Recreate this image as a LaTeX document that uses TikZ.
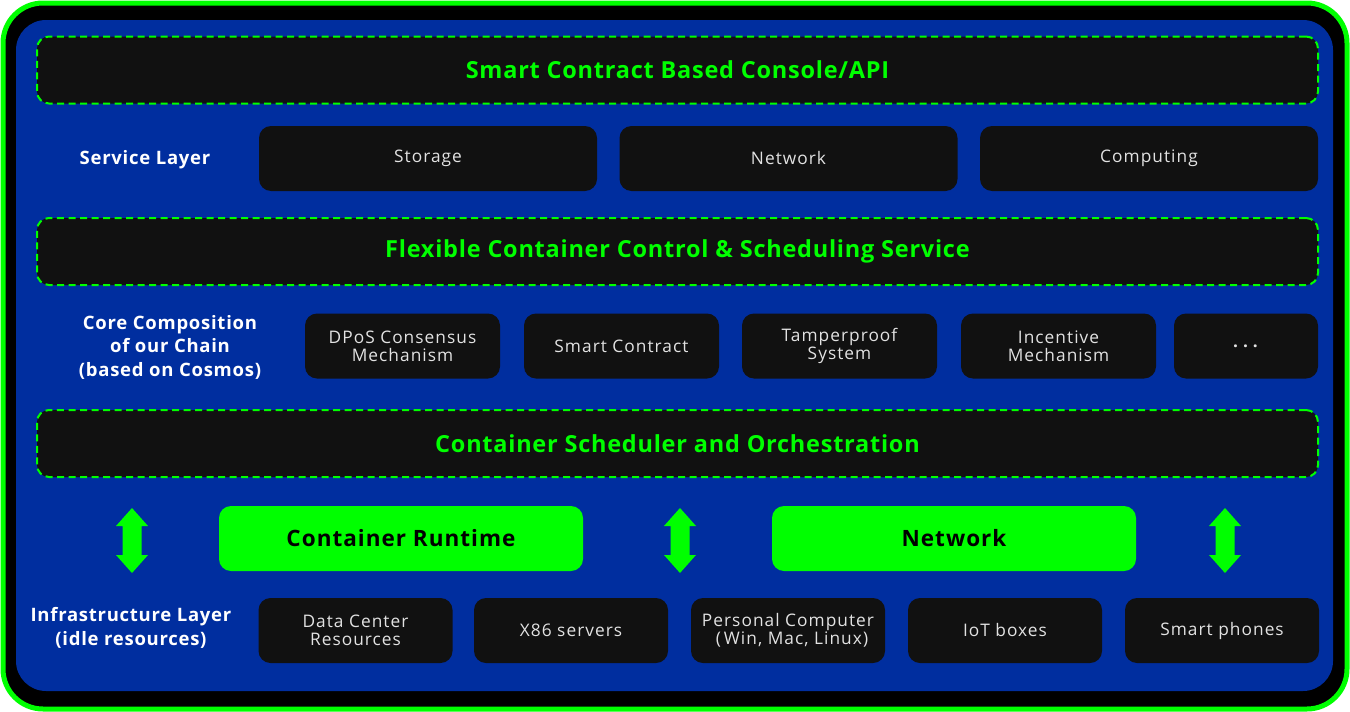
\documentclass[tikz,border=0pt]{standalone}
\usepackage{fontspec}
\setmainfont{Open Sans}
\newfontfamily\titlefont[LetterSpace=3.2]{Open Sans}
\newfontfamily\greenfont[LetterSpace=4.5]{Open Sans}
\newfontfamily\boxfont[LetterSpace=6]{Open Sans}
\newfontfamily\labfont[LetterSpace=4]{Open Sans}
\definecolor{bgblue}{HTML}{002E9F}
\definecolor{lime}{HTML}{00FF00}
\definecolor{dark}{HTML}{111111}
\definecolor{light}{HTML}{E2E2E2}
\tikzset{
  dbox/.style={draw=lime, line width=2pt, dash pattern=on 7pt off 4.5pt, fill=dark, rounded corners=12pt, minimum width=1281pt, minimum height=67pt, inner sep=0pt, text=lime, font=\titlefont\fontsize{23.5}{26}\selectfont\bfseries},
  ibox/.style={fill=dark, rounded corners=12pt, minimum height=65pt, inner sep=0pt, text=light, align=center, font=\boxfont\fontsize{17.3}{18}\selectfont},
  gbox/.style={fill=lime, rounded corners=12pt, minimum width=364pt, minimum height=65pt, inner sep=0pt, text=black, font=\greenfont\fontsize{22.5}{26}\selectfont\bfseries},
  lab/.style={text=white, align=center, font=\labfont\fontsize{18.5}{23.5}\selectfont\bfseries},
  dblarrow/.style={fill=lime, draw=none}
}
\newcommand{\dblarr}[3]{%
  \coordinate (#1) at (#2,#3);
  \fill[dblarrow] ([shift={(0,-32.5)}]#1) -- ++(16,18) -- ++(-6.5,0) -- ++(0,29) -- ++(6.5,0) -- ++(-16,18) -- ++(-16,-18) -- ++(6.5,0) -- ++(0,-29) -- ++(-6.5,0) -- cycle;}
\begin{document}
\begin{tikzpicture}[x=1pt,y=-1pt]
\useasboundingbox (0,0) rectangle (1350,712);
\draw[draw=lime, fill=black, line width=5pt, rounded corners=40pt] (3,3) rectangle (1347,709);
\fill[bgblue, rounded corners=30pt] (16,20) rectangle (1333,691);

\node[dbox] (console) at (677.5,70) {Smart Contract Based Console/API};
\node[lab] (svc) at (145,160) {Service Layer};
\node[ibox, minimum width=338pt] (storage) at (428,158.5) {\raisebox{-1pt}{Storage}};
\node[ibox, minimum width=338pt] (net1) at (788.5,158.5) {\raisebox{-1pt}{Network}};
\node[ibox, minimum width=338pt] (comp) at (1149,158.5) {\raisebox{-1pt}{Computing}};

\node[dbox] (flex) at (677.5,251.5) {Flexible Container Control \& Scheduling Service};
\node[lab] (core) at (170,347) {Core Composition\\of our Chain\\(based on Cosmos)};
\node[ibox, minimum width=195pt] (dpos) at (402.5,346) {DPoS Consensus\\Mechanism};
\node[ibox, minimum width=195pt] (smart) at (621.5,346) {\raisebox{-1pt}{Smart Contract}};
\node[ibox, minimum width=195pt] (tamper) at (839.5,346) {Tamperproof\\System};
\node[ibox, minimum width=195pt] (incent) at (1058.5,346) {Incentive\\Mechanism};
\node[ibox, minimum width=144pt] (more) at (1246,346) {\textbf{.\hspace{5pt}.\hspace{5pt}.}};

\node[dbox] (sched) at (677.5,443.5) {Container Scheduler and Orchestration};

\dblarr{a1}{132}{540.5}
\node[gbox] (runtime) at (401,538.5) {Container Runtime};
\dblarr{a2}{680}{540.5}
\node[gbox] (net2) at (954,538.5) {Network};
\dblarr{a3}{1225}{540.5}

\node[lab] (infra) at (131,628) {Infrastructure Layer\\(idle resources)};
\node[ibox, minimum width=194pt] (dc) at (355.5,630.5) {Data Center\\Resources};
\node[ibox, minimum width=194pt] (x86) at (571,630.5) {\raisebox{-1pt}{X86 servers}};
\node[ibox, minimum width=194pt] (pc) at (788,630.5) {Personal Computer\\\hspace{8pt}(\,Win, Mac, Linux)};
\node[ibox, minimum width=194pt] (iot) at (1005,630.5) {\raisebox{-1pt}{IoT boxes}};
\node[ibox, minimum width=194pt] (phone) at (1222,630.5) {\raisebox{-1pt}{Smart phones}};
\end{tikzpicture}
\end{document}
